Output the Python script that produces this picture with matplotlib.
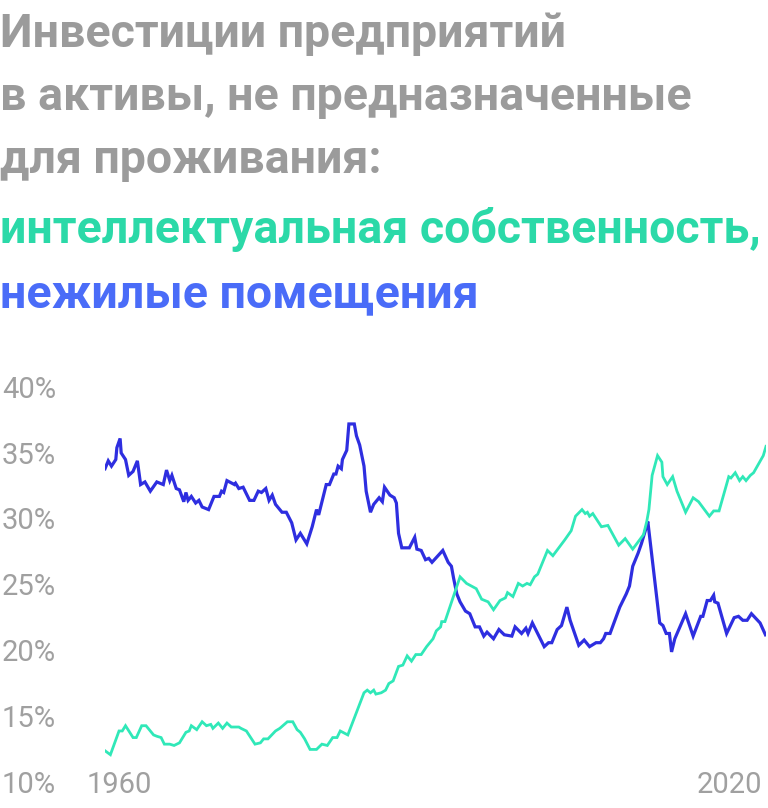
import matplotlib
matplotlib.use('Agg')
import matplotlib.pyplot as plt
from matplotlib.transforms import blended_transform_factory

# DATA (share of non-residential investment, %)
ip_years = [1960.0, 1960.5, 1961.3, 1961.6, 1961.9, 1962.6, 1962.9, 1963.4, 1963.8, 1964.5,
            1964.8, 1965.2, 1965.5, 1966.0, 1966.4, 1966.9, 1967.5, 1967.8, 1968.0, 1968.5,
            1969.0, 1969.4, 1969.8, 1970.0, 1970.5, 1970.9, 1971.3, 1971.7, 1972.4, 1972.6,
            1973.1, 1973.9, 1974.4, 1974.7, 1975.1, 1975.8, 1976.2, 1976.9, 1977.4, 1977.8,
            1978.1, 1978.5, 1979.0, 1979.6, 1980.1, 1980.6, 1981.1, 1981.5, 1981.8, 1982.5,
            1984.0, 1984.3, 1984.6, 1984.9, 1985.1, 1985.6, 1986.0, 1986.3, 1986.7, 1987.2,
            1987.6, 1988.0, 1988.4, 1988.8, 1989.3, 1989.8, 1990.4, 1990.7, 1991.1, 1991.2,
            1991.5, 1992.9, 1993.5, 1994.4, 1994.9, 1995.5, 1996.0, 1996.6, 1997.1, 1997.3,
            1997.8, 1998.3, 1998.7, 1999.1, 1999.4, 1999.8, 2000.1, 2001.0, 2001.5, 2002.6,
            2003.2, 2003.6, 2004.2, 2004.5, 2004.7, 2004.9, 2005.2, 2006.0, 2006.6, 2007.6,
            2008.2, 2008.9, 2009.9, 2010.2, 2010.4, 2010.7, 2011.2, 2011.6, 2011.7, 2012.1,
            2012.6, 2013.0, 2013.8, 2014.5, 2015.0, 2016.0, 2016.4, 2016.9, 2017.8, 2018.0,
            2018.4, 2018.8, 2019.1, 2019.4, 2019.8, 2020.1, 2020.8, 2021.0, 2021.25]
ip_share = [12.6, 12.3, 14.1, 14.1, 14.5, 13.6, 13.6, 14.5, 14.5, 13.8,
            13.7, 13.6, 13.1, 13.1, 13.0, 13.2, 14.0, 14.1, 14.5, 14.2,
            14.8, 14.5, 14.6, 14.3, 14.7, 14.3, 14.7, 14.4, 14.4, 14.3,
            14.1, 13.1, 13.2, 13.5, 13.5, 14.1, 14.3, 14.8, 14.8, 14.2,
            14.0, 13.5, 12.7, 12.7, 13.1, 13.0, 13.6, 13.6, 14.1, 13.8,
            17.0, 17.2, 17.0, 17.2, 16.9, 17.0, 17.2, 17.7, 17.9, 19.0,
            19.1, 19.8, 19.4, 19.9, 19.9, 20.5, 21.1, 21.7, 22.0, 22.4,
            22.4, 25.8, 25.3, 24.9, 24.1, 23.9, 23.3, 24.0, 24.2, 24.6,
            24.3, 25.3, 25.1, 25.3, 25.2, 25.8, 26.0, 27.8, 27.4, 28.6,
            29.3, 30.4, 30.9, 30.6, 30.7, 30.4, 30.6, 29.6, 29.7, 28.2,
            28.7, 27.9, 29.0, 30.0, 30.9, 33.5, 35.0, 34.5, 33.4, 32.8,
            33.4, 32.3, 30.7, 31.8, 31.5, 30.4, 30.8, 30.8, 33.4, 33.3,
            33.7, 33.1, 33.4, 33.1, 33.5, 33.7, 34.7, 35.0, 35.7]

st_years = [1960.0, 1960.3, 1960.6, 1961.0, 1961.1, 1961.4, 1961.5, 1961.9, 1962.2, 1962.6,
            1963.0, 1963.3, 1963.7, 1964.2, 1964.8, 1965.4, 1965.7, 1966.0, 1966.2, 1966.6,
            1966.9, 1967.3, 1967.5, 1967.7, 1968.0, 1968.4, 1968.7, 1969.0, 1969.6, 1970.1,
            1970.6, 1970.8, 1971.0, 1971.3, 1972.0, 1972.1, 1972.4, 1972.8, 1973.4, 1973.8,
            1974.2, 1974.5, 1974.9, 1975.2, 1975.5, 1975.8, 1976.4, 1976.8, 1977.3, 1977.7,
            1978.1, 1978.7, 1979.2, 1979.6, 1979.8, 1980.5, 1980.8, 1981.2, 1981.4, 1981.6,
            1981.9, 1982.0, 1982.4, 1982.6, 1983.1, 1983.3, 1983.6, 1984.0, 1984.2, 1984.6,
            1984.9, 1985.4, 1985.7, 1985.9, 1986.4, 1986.8, 1987.0, 1987.2, 1987.5, 1988.2,
            1988.7, 1988.9, 1989.3, 1989.7, 1990.0, 1990.3, 1991.3, 1991.8, 1992.1, 1992.3,
            1992.6, 1992.9, 1993.4, 1993.8, 1994.3, 1994.7, 1995.1, 1995.4, 1996.0, 1996.5,
            1997.0, 1997.7, 1998.0, 1998.6, 1999.0, 1999.2, 1999.6, 2000.7, 2001.1, 2001.4,
            2001.9, 2002.3, 2002.8, 2003.1, 2003.9, 2004.4, 2004.9, 2005.5, 2005.9, 2006.2,
            2006.4, 2006.8, 2007.7, 2008.0, 2008.3, 2008.6, 2008.9, 2009.4, 2009.7, 2010.1,
            2010.3, 2011.4, 2011.7, 2012.0, 2012.3, 2012.5, 2012.8, 2013.8, 2014.5, 2015.2,
            2015.4, 2015.8, 2016.1, 2016.4, 2016.5, 2016.8, 2017.6, 2018.3, 2018.7, 2019.1,
            2019.5, 2019.9, 2020.7, 2021.2]
st_share = [34.0, 34.6, 34.2, 34.7, 35.6, 36.3, 35.2, 34.7, 33.5, 33.8,
            34.6, 32.8, 33.0, 32.3, 33.0, 32.8, 33.9, 33.1, 33.5, 32.5,
            32.4, 31.5, 32.2, 31.6, 31.9, 31.4, 31.6, 31.1, 30.9, 31.9,
            31.9, 32.3, 32.2, 33.1, 32.8, 32.9, 32.5, 32.6, 31.6, 31.6,
            32.3, 32.2, 32.5, 31.6, 32.0, 31.3, 30.7, 30.7, 29.9, 28.6,
            29.1, 28.3, 29.6, 30.9, 30.5, 32.8, 32.8, 33.6, 33.6, 34.2,
            34.0, 34.7, 35.4, 37.4, 37.4, 36.5, 35.8, 34.2, 32.3, 30.7,
            31.3, 31.8, 31.5, 32.6, 32.0, 31.8, 31.4, 29.1, 28.0, 28.0,
            28.8, 27.9, 27.8, 27.1, 27.2, 26.9, 27.8, 26.9, 26.6, 25.7,
            24.5, 23.9, 23.2, 23.0, 22.0, 22.0, 21.3, 21.6, 21.1, 21.8,
            21.4, 21.3, 22.0, 21.5, 21.9, 21.5, 22.3, 20.5, 20.8, 20.8,
            21.8, 22.1, 23.5, 22.5, 20.6, 21.0, 20.5, 20.8, 20.8, 21.1,
            21.5, 21.5, 23.5, 24.0, 24.5, 25.1, 26.6, 27.6, 28.3, 29.4,
            30.0, 22.3, 22.1, 21.5, 21.5, 20.1, 21.1, 23.0, 21.3, 22.8,
            22.8, 24.0, 24.0, 24.4, 23.9, 23.8, 21.5, 22.7, 22.8, 22.5,
            22.5, 23.0, 22.3, 21.4]

y_ticks = [10, 15, 20, 25, 30, 35, 40]
x_labels = ['1960', '2020']

title_gray = ['Инвестиции предприятий',
              'в активы, не предназначенные',
              'для проживания:']
title_green = 'интеллектуальная собственность,'
title_blue = 'нежилые помещения'

GRAY = '#9b9b9b'
TICK = '#a0a0a0'
GREEN_T = '#2bd9a8'
BLUE_T = '#4a6cf8'
GREEN_L = '#30e8b8'
BLUE_L = '#2e2ee0'

plt.rcParams['font.family'] = ['Roboto', 'DejaVu Sans']

W, H = 768, 808
fig = plt.figure(figsize=(W / 100, H / 100), dpi=100)
fig.patch.set_facecolor('white')

def fx(px):
    return px / W

def fy(py):
    return 1 - py / H

# title block
TSIZE = 33.5
baselines = [47, 110, 173, 243, 307]
for i, line in enumerate(title_gray):
    fig.text(fx(0), fy(baselines[i]), line, color=GRAY, fontsize=TSIZE,
             fontweight='bold', va='baseline', ha='left')
fig.text(fx(0), fy(baselines[3]), title_green, color=GREEN_T, fontsize=TSIZE,
         fontweight='bold', va='baseline', ha='left')
fig.text(fx(0), fy(baselines[4]), title_blue, color=BLUE_T, fontsize=TSIZE,
         fontweight='bold', va='baseline', ha='left')

# chart area
x0, x1 = 105, 766
y_top, y_bot = 389.7, 785
ax = fig.add_axes([fx(x0), fy(y_bot), (x1 - x0) / W, (y_bot - y_top) / H])
ax.plot(st_years, st_share, color=BLUE_L, lw=2.3, solid_joinstyle='miter')
ax.plot(ip_years, ip_share, color=GREEN_L, lw=2.0, solid_joinstyle='miter')
ax.set_xlim(1960, 2021.25)
ax.set_ylim(10, 40)
ax.axis('off')

# y labels on the left edge of the figure
tr = blended_transform_factory(fig.transFigure, ax.transData)
for v in y_ticks:
    ax.text(fx(2), v, '%d%%' % v, transform=tr, color=TICK, fontsize=21,
            ha='left', va='center', clip_on=False)

# x labels at the bottom
fig.text(fx(87), fy(785), x_labels[0], color=TICK, fontsize=21, ha='left', va='center')
fig.text(fx(762), fy(785), x_labels[1], color=TICK, fontsize=21, ha='right', va='center')

fig.savefig('out.png', dpi=100, facecolor='white')
